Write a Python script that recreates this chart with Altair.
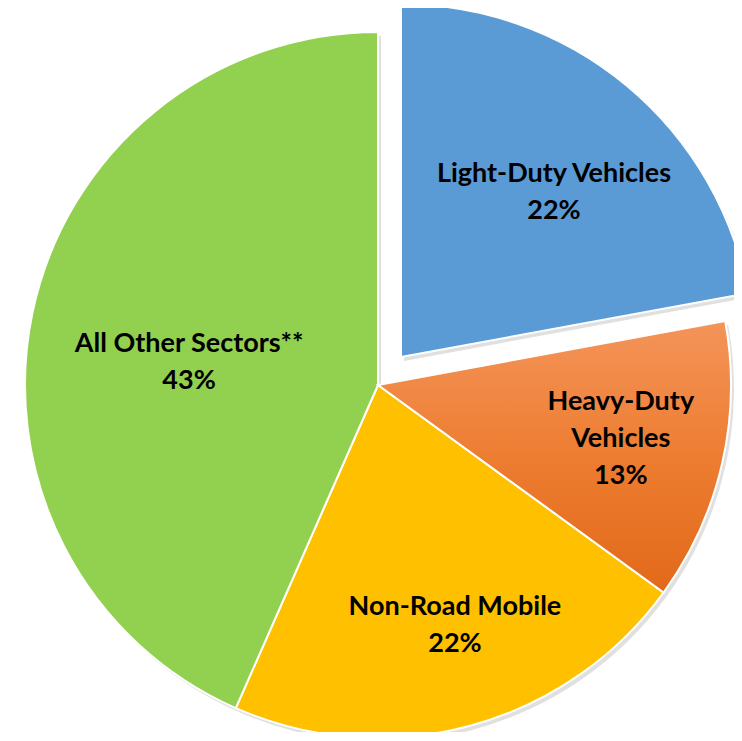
import math
import altair as alt
import pandas as pd

# Data (percent of total)
sectors = ["Light-Duty Vehicles", "Heavy-Duty Vehicles", "Non-Road Mobile", "All Other Sectors**"]
shares = [22.1, 12.9, 21.6, 43.4]
display_labels = ["Light-Duty Vehicles", "Heavy-Duty\nVehicles", "Non-Road Mobile", "All Other Sectors**"]
slice_order = [0, 1, 2, 3]

# Styles
slice_colors = ["#5B9BD5", "#ED7D31", "#FFC000", "#92D050"]

df = pd.DataFrame({"sector": sectors, "share": shares, "disp": display_labels, "order": slice_order})

base = alt.Chart(df).transform_window(
    cum="sum(share)", sort=[alt.SortField("order", order="ascending")], frame=[None, 0]
).transform_calculate(
    start="datum.cum - datum.share",
    mid="datum.cum - datum.share / 2",
    label='datum.disp + "\\n" + format(datum.share, ".0f") + "%"',
)

theta_scale = alt.Scale(domain=[0, 100], range=[0, 2 * math.pi])
R = 353
EX, EY = 23, -28

def arcs(sel, **mark):
    return base.transform_filter(
        alt.FieldOneOfPredicate(field="sector", oneOf=sel)
    ).mark_arc(outerRadius=R, **mark).encode(
        theta=alt.Theta("start:Q", scale=theta_scale, stack=False),
        theta2=alt.Theta2("cum:Q"),
    )

color_enc = alt.Color("sector:N", scale=alt.Scale(domain=sectors, range=slice_colors), legend=None)

shadow_main = arcs(sectors[1:], color="#000000", opacity=0.12, xOffset=3, yOffset=4)
shadow_ex = arcs(sectors[:1], color="#000000", opacity=0.12, xOffset=EX + 3, yOffset=EY + 4)

main = arcs(["Non-Road Mobile", "All Other Sectors**"], stroke="white", strokeWidth=2).encode(color=color_enc)
hdv = arcs(["Heavy-Duty Vehicles"], stroke="white", strokeWidth=2,
           color=alt.LinearGradient(gradient="linear",
                                    stops=[alt.GradientStop(color="#F4945A", offset=0),
                                           alt.GradientStop(color="#ED7D31", offset=0.5),
                                           alt.GradientStop(color="#E2691A", offset=1)],
                                    x1=0, x2=0, y1=0, y2=1))
ldv = arcs(["Light-Duty Vehicles"], stroke="white", strokeWidth=2, xOffset=EX, yOffset=EY).encode(color=color_enc)

def label(sector, radius, dx=0, dy=0, xo=0, yo=0):
    return base.transform_filter(alt.datum.sector == sector).mark_text(
        radius=radius, font="Lato", fontWeight="bold", fontSize=27, lineBreak="\n",
        lineHeight=37, color="black", align="center", baseline="middle",
        dx=dx, dy=dy, xOffset=xo, yOffset=yo,
    ).encode(
        theta=alt.Theta("mid:Q", scale=theta_scale, stack=False),
        text="label:N",
    )

labels = [
    label("Light-Duty Vehicles", 225, dx=9, dy=-10, xo=EX, yo=EY),
    label("Heavy-Duty Vehicles", 249, dy=-38),
    label("Non-Road Mobile", 249, dx=12, dy=-18),
    label("All Other Sectors**", 190, dx=-3, dy=-2),
]

chart = alt.layer(shadow_main, shadow_ex, main, hdv, ldv, *labels).properties(
    width=700,
    height=690,
    autosize=alt.AutoSizeParams(type="none"),
    padding={"left": 20, "top": 32, "right": 6, "bottom": 2},
).configure_view(stroke=None)

chart.save("out.html", embed_options={"renderer": "svg", "actions": False})
